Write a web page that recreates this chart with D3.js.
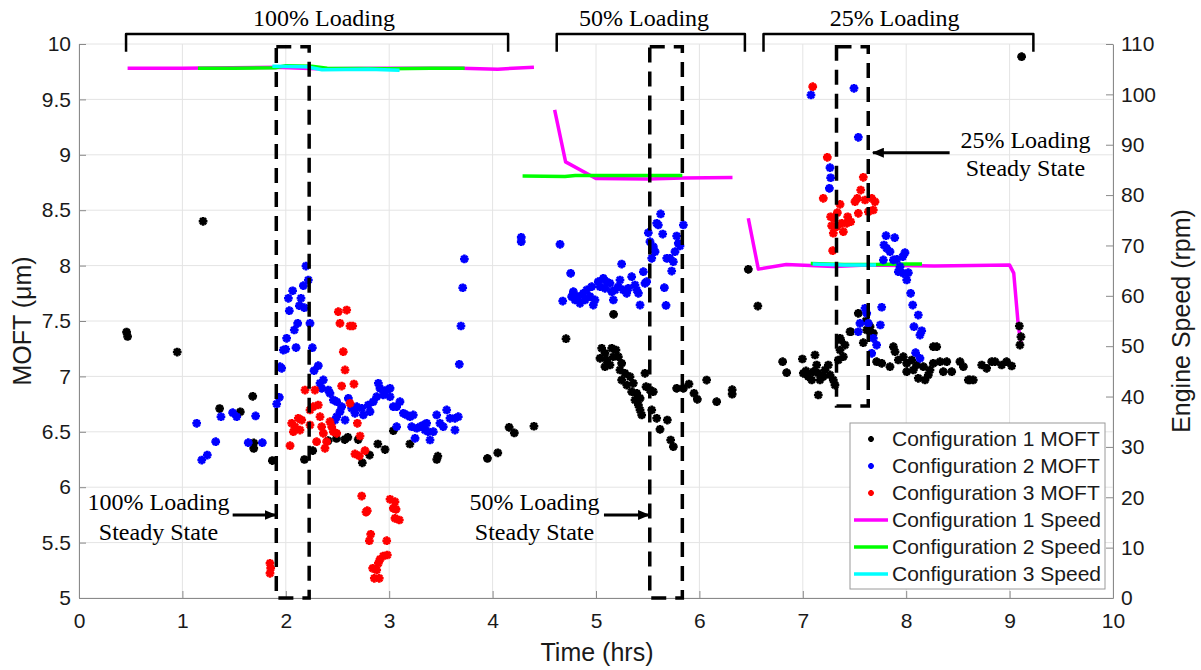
<!DOCTYPE html>
<html>
<head>
<meta charset="utf-8">
<script src="https://cdn.jsdelivr.net/npm/d3@7"></script>
<style>
	body { margin: 0; background: #fff; }
	text { font-family: "Liberation Sans", Arial, sans-serif; fill: #1a1a1a; }
	.serif { font-family: "Liberation Serif", "Times New Roman", serif; fill: #000; }
</style>
</head>
<body>
<svg class="m_chart"></svg>
<script>
	// MOFT samples [time (hrs), MOFT (um)]
	var moft1 = [
		[0.46,7.40],[0.47,7.36],[0.95,7.22],[1.20,8.40],[1.36,6.71],[1.56,6.68],[1.68,6.82],[1.69,6.40],[1.69,6.35],[1.87,6.24],
		[2.18,6.25],[2.26,6.33],[2.41,6.42],[2.49,6.44],[2.57,6.43],[2.60,6.45],[2.70,6.43],[2.74,6.22],[2.81,6.29],[2.89,6.39],
		[2.96,6.34],[3.04,6.51],[3.20,6.39],[3.46,6.25],[3.47,6.28],[3.95,6.26],[4.05,6.31],[4.16,6.54],[4.21,6.49],[4.40,6.55],
		[4.71,7.34],[5.17,7.56],
		[5.055,7.254],[5.087,7.208],[5.152,7.254],[5.193,7.238],[5.039,7.163],[5.103,7.148],[5.168,7.178],[5.216,7.178],[5.087,7.088],
		[5.135,7.103],[5.248,7.118],[5.232,7.058],[5.280,7.028],[5.329,6.997],[5.248,6.967],[5.297,6.922],[5.361,6.938],[5.345,6.862],
		[5.394,6.847],[5.426,6.802],[5.377,6.787],[5.410,6.742],[5.426,6.697],[5.442,6.652],[5.474,7.028],[5.484,6.907],[5.522,6.877],
		[5.554,6.862],[5.539,6.697],[5.587,6.622],[5.619,6.522],[5.690,6.606],[5.722,6.426],[5.748,6.366],[5.780,6.892],[5.845,6.892],
		[5.899,6.931],[5.948,6.847],[5.980,6.793],[6.070,6.967],[6.167,6.772],[6.317,6.88],[6.317,6.84],[6.473,7.966],[6.565,7.635],
		[6.805,7.133],[6.844,7.034],[6.996,7.157],[7.005,7.028],[7.031,7.049],[7.053,6.998],[7.086,6.968],[7.102,7.043],[7.118,7.193],
		[7.134,7.103],[7.150,7.028],[7.166,6.968],[7.198,6.998],[7.215,7.058],[7.247,7.103],[7.263,7.013],[7.295,6.968],[7.311,6.922],
		[7.150,6.832],[7.344,7.148],[7.360,7.238],[7.366,7.329],[7.408,7.283],[7.392,7.178],[7.463,7.403],[7.537,7.569],[7.618,7.419],
		[7.650,7.449],[7.682,7.389],[7.585,7.304],[7.360,7.344],[7.457,7.403],[7.611,7.50],[7.714,7.133],[7.763,7.118],[7.843,7.088],
		[7.876,7.268],[7.892,7.223],[7.924,7.148],[7.972,7.178],[8.005,7.118],[8.005,7.043],[8.053,7.148],[8.069,7.058],[8.101,7.103],
		[8.117,6.983],[8.166,7.088],[8.182,6.968],[8.214,7.013],[8.230,7.058],[8.262,7.268],[8.295,7.268],[8.262,7.118],[8.327,7.133],
		[8.359,7.043],[8.392,7.133],[8.440,7.043],[8.520,7.133],[8.553,7.088],[8.601,6.968],[8.617,6.968],[8.649,6.968],[8.730,7.103],
		[8.778,7.073],[8.827,7.133],[8.859,7.133],[8.923,7.103],[8.971,7.133],[9.020,7.094],[9.094,7.455],[9.110,7.358],[9.100,7.283],
		[9.116,9.886]
	];
	var moft2 = [
		[1.138,6.577],[1.187,6.245],[1.241,6.290],[1.322,6.411],[1.373,6.636],[1.486,6.673],[1.525,6.636],[1.637,6.402],[1.708,6.643],
		[1.773,6.402],[1.912,6.751],[1.937,6.811],[1.944,7.088],[1.960,7.073],[1.976,7.238],[1.999,7.245],[2.008,7.344],[2.025,7.705],
		[2.034,7.593],[2.099,7.26],[2.082,7.419],[2.115,7.479],[2.066,7.773],[2.147,7.705],[2.131,7.638],[2.179,7.620],[2.170,7.819],
		[2.218,7.870],[2.195,7.996],[2.234,7.479],[2.257,7.259],[2.273,7.052],[2.314,7.097],[2.363,6.968],[2.331,6.938],
		[2.347,6.892],[2.411,6.877],[2.427,6.847],[2.460,6.787],[2.492,6.772],[2.540,6.727],[2.524,6.682],[2.492,6.636],[2.476,6.606],
		[2.605,6.802],[2.573,6.606],[2.637,6.712],[2.686,6.727],[2.669,6.667],[2.734,6.712],[2.750,6.652],[2.798,6.742],[2.814,6.682],
		[2.846,6.772],[2.879,6.817],[2.895,6.938],[2.911,6.892],[2.943,6.832],[2.976,6.877],[3.008,6.892],[3.008,6.817],[3.040,6.727],
		[3.072,6.727],[3.104,6.772],[3.137,6.667],[3.169,6.652],[3.201,6.636],[3.233,6.652],[3.217,6.546],[3.266,6.532],[3.250,6.441],
		[3.298,6.546],[3.330,6.561],[3.362,6.577],[3.346,6.516],[3.378,6.501],[3.427,6.501],[3.395,6.426],[3.459,6.652],[3.491,6.577],
		[3.523,6.546],[3.556,6.697],[3.588,6.622],[3.636,6.622],[3.668,6.636],[3.636,6.516],[3.072,6.546],
		[3.678,7.109],[3.694,7.455],[3.711,7.80],[3.727,8.06],[4.277,8.255],[4.277,8.216],
		[4.652,8.192],[4.755,7.930],[4.678,7.680],[4.781,7.765],[4.765,7.720],[4.797,7.690],[4.829,7.720],[4.845,7.660],[4.877,7.750],
		[4.894,7.690],[4.910,7.780],[4.942,7.720],[4.958,7.810],[4.990,7.690],[4.974,7.644],[5.022,7.855],[5.039,7.810],[5.071,7.885],
		[5.103,7.855],[5.087,7.795],[5.135,7.840],[5.152,7.765],[5.184,7.780],[5.168,7.690],[5.232,7.870],[5.216,7.810],[5.264,7.780],
		[5.297,7.750],[5.313,7.795],[5.345,7.900],[5.377,7.825],[5.394,7.780],[5.410,7.750],[5.426,7.644],[5.248,8.014],[5.458,7.945],
		[5.474,7.840],[5.490,7.855],[5.506,8.297],[5.522,8.216],[5.554,8.171],[5.571,8.126],[5.539,8.066],[5.587,8.382],[5.603,8.367],
		[5.625,8.466],[5.645,8.285],[5.661,7.801],[5.677,7.641],[5.684,8.066],[5.716,8.066],[5.732,7.951],[5.748,8.035],[5.764,8.126],
		[5.780,8.267],[5.796,8.201],[5.812,8.177],[5.845,8.367],
		[7.079,9.540],[7.495,9.600],[7.537,9.158],[7.263,8.884],[7.269,8.793],[7.257,8.697],[7.805,8.270],[7.889,8.252],[7.785,8.186],
		[7.811,8.156],[7.843,8.126],[7.988,8.117],[7.966,8.080],[7.908,8.057],[7.876,8.051],[7.779,8.051],[7.940,7.990],[7.924,7.945],
		[7.972,7.930],[8.021,7.936],[8.005,7.870],[8.043,7.750],[8.063,7.644],[8.117,7.554],[8.075,7.449],[8.150,7.412],[8.133,7.373],
		[8.091,7.214],[8.133,7.163],[7.602,7.615],[7.618,7.569],[7.553,7.479],[7.537,7.403],[7.634,7.479],[7.682,7.344],[7.714,7.283],
		[7.666,7.208],[7.763,7.624],[7.750,7.464]
	];
	var moft3 = [
		[1.847,5.313],[1.854,5.268],[1.847,5.223],
		[2.508,7.584],[2.589,7.599],[2.524,7.479],[2.621,7.455],[2.647,7.455],[2.556,7.223],[2.573,7.058],[2.540,6.913],[2.659,6.931],
		[2.186,6.877],[2.282,6.877],[2.621,6.757],[2.266,6.727],[2.314,6.742],[2.234,6.697],[2.121,6.622],[2.154,6.606],[2.057,6.577],
		[2.089,6.546],[2.137,6.516],[2.073,6.501],[2.234,6.561],[2.331,6.636],[2.347,6.546],[2.363,6.486],[2.427,6.591],[2.444,6.546],
		[2.460,6.501],[2.492,6.486],[2.041,6.375],[2.298,6.411],[2.379,6.351],[2.395,6.411],[2.692,6.577],[2.718,6.462],[2.669,6.300],
		[2.711,6.282],[2.766,6.330],[2.734,5.920],[2.788,5.788],[2.776,5.776],[3.008,5.891],[3.056,5.869],[3.040,5.809],[3.066,5.800],
		[3.056,5.719],[3.098,5.704],[2.821,5.575],[2.808,5.517],[2.976,5.517],[2.943,5.379],[2.911,5.349],[2.982,5.388],[2.895,5.313],
		[2.840,5.268],[2.879,5.253],[2.856,5.178],[2.904,5.178],
		[7.096,9.615],[7.237,8.977],[7.585,8.797],[7.560,8.682],[7.505,8.577],[7.527,8.607],[7.198,8.607],[7.360,8.553],[7.334,8.478],
		[7.269,8.441],[7.302,8.427],[7.434,8.441],[7.463,8.396],[7.424,8.382],[7.376,8.382],[7.392,8.306],[7.328,8.351],[7.279,8.360],
		[7.295,8.292],[7.537,8.472],[7.602,8.592],[7.634,8.486],[7.666,8.607],[7.698,8.577],[7.682,8.502],[7.289,8.135]
	];

	// engine speed traces [time (hrs), rpm], one array per loading run
	var speed1_100 = [[0.47,105.2],[1.0,105.2],[1.9,105.4],[2.3,105.1],[3.0,105.2],[3.7,105.2],[4.05,105.0],[4.40,105.4]];
	var speed1_50 = [[4.60,96.9],[4.706,86.6],[5.0,83.3],[5.5,83.2],[5.84,83.4],[6.32,83.5]];
	var speed1_25 = [[6.473,75.4],[6.57,65.3],[6.84,66.2],[7.3,65.8],[7.62,66.1],[8.27,65.9],[9.0,66.1],[9.04,64.5],[9.085,53.9],[9.11,50.6]];
	var speed2_100 = [[1.15,105.2],[1.5,105.2],[1.9,105.3],[2.0,105.7],[2.25,105.6],[2.4,105.2],[3.0,105.1],[3.4,105.2],[3.73,105.2]];
	var speed2_50 = [[4.29,83.8],[4.7,83.7],[4.8,83.9],[5.5,83.9],[5.835,83.9]];
	var speed2_25 = [[7.077,66.4],[7.4,66.2],[7.7,66.2],[8.0,66.3],[8.153,66.3]];
	var speed3_100 = [[1.87,105.6],[2.2,105.5],[2.35,104.9],[2.8,105.0],[3.1,104.8]];
	var speed3_25 = [[7.096,66.3],[7.4,66.1],[7.708,66.1]];

	// loading brackets [start, end, label] and steady state boxes [start, end, bottom MOFT]
	var loadings = [[0.455,4.15,"100% Loading"],[4.62,6.44,"50% Loading"],[6.62,9.23,"25% Loading"]];
	var steadyBoxes = [[1.908,2.226,5],[5.52,5.835,5],[7.326,7.633,6.733]];

	var legendLabels = ["Configuration 1 MOFT","Configuration 2 MOFT","Configuration 3 MOFT",
		"Configuration 1 Speed","Configuration 2 Speed","Configuration 3 Speed"];

	const colors = {
		moft1: "#000000",
		moft2: "#0000ff",
		moft3: "#ff0000",
		speed1: "#ff00ff",
		speed2: "#00ff00",
		speed3: "#00ffff",
		grid: "#e4e4e4",
		axis: "#8a8a8a"
	};
	const margin = {top: 44, right: 88, bottom: 72, left: 79};
	var width = 1201 - margin.left - margin.right;
	var height = 670 - margin.top - margin.bottom;

	var svg = d3.select('.m_chart')
		.attr('width', width + margin.left + margin.right)
		.attr('height', height + margin.top + margin.bottom);
	svg.append('rect').attr('width', 1201).attr('height', 670).attr('fill', '#fff');

	var chart = svg.append('g')
		.attr('transform', 'translate(' + margin.left + ',' + margin.top + ')');

	var x = d3.scaleLinear().domain([0, 10]).range([0, width]);
	var yL = d3.scaleLinear().domain([5, 10]).range([height, 0]);
	var yR = d3.scaleLinear().domain([0, 110]).range([height, 0]);

	// grid
	chart.append('g').selectAll('line')
		.data(x.ticks(10))
		.enter().append('line')
		.attr('x1', (d) => x(d)).attr('x2', (d) => x(d))
		.attr('y1', 0).attr('y2', height)
		.attr('stroke', colors.grid);
	chart.append('g').selectAll('line')
		.data(d3.range(5, 10.01, 0.5))
		.enter().append('line')
		.attr('x1', 0).attr('x2', width)
		.attr('y1', (d) => yL(d)).attr('y2', (d) => yL(d))
		.attr('stroke', colors.grid);

	// axes, ticks pointing inward
	var xAxis = chart.append('g')
		.attr('transform', 'translate(0,' + height + ')')
		.call(d3.axisBottom(x).ticks(10).tickSizeInner(-7).tickSizeOuter(0).tickPadding(15));
	var yAxisL = chart.append('g')
		.call(d3.axisLeft(yL).tickValues(d3.range(5, 10.01, 0.5)).tickFormat(d3.format('~g')).tickSizeInner(-7).tickSizeOuter(0).tickPadding(8));
	var yAxisR = chart.append('g')
		.attr('transform', 'translate(' + width + ',0)')
		.call(d3.axisRight(yR).tickValues(d3.range(0, 111, 10)).tickSizeInner(-7).tickSizeOuter(0).tickPadding(8));
	[xAxis, yAxisL, yAxisR].forEach((a) => {
		a.select('.domain').attr('stroke', colors.axis);
		a.selectAll('.tick line').attr('stroke', colors.axis);
		a.selectAll('.tick text').attr('font-size', 21).attr('fill', '#1a1a1a')
			.style('font-family', '"Liberation Sans", Arial, sans-serif');
	});

	// axis titles
	svg.append('text').attr('x', 597).attr('y', 661).attr('text-anchor', 'middle')
		.attr('font-size', 25).text('Time (hrs)');
	svg.append('text').attr('transform', 'translate(22,321) rotate(-90)').attr('dy', '0.35em')
		.attr('text-anchor', 'middle').attr('font-size', 25).text('MOFT (\u03bcm)');
	svg.append('text').attr('transform', 'translate(1181,321) rotate(-90)').attr('dy', '0.35em')
		.attr('text-anchor', 'middle').attr('font-size', 25).text('Engine Speed (rpm)');

	// speed lines (right axis)
	var line = d3.line().x((d) => x(d[0])).y((d) => yR(d[1]));
	var speedRuns = [
		[speed1_100, colors.speed1], [speed1_50, colors.speed1], [speed1_25, colors.speed1],
		[speed2_100, colors.speed2], [speed2_50, colors.speed2], [speed2_25, colors.speed2],
		[speed3_100, colors.speed3], [speed3_25, colors.speed3]
	];
	chart.append('g').selectAll('path')
		.data(speedRuns)
		.enter().append('path')
		.attr('d', (d) => line(d[0]))
		.attr('fill', 'none')
		.attr('stroke', (d) => d[1])
		.attr('stroke-width', 3.5)
		.attr('stroke-linejoin', 'round');

	// matlab style '*' marker: plus and cross together
	var star = {
		draw: function(ctx, size) {
			var r = Math.sqrt(size) / 2, q = r * 0.7071;
			ctx.moveTo(-r, 0); ctx.lineTo(r, 0);
			ctx.moveTo(0, -r); ctx.lineTo(0, r);
			ctx.moveTo(-q, -q); ctx.lineTo(q, q);
			ctx.moveTo(-q, q); ctx.lineTo(q, -q);
		}
	};
	var marker = d3.symbol().type(star).size(76);

	var moftSets = [[moft1, colors.moft1], [moft2, colors.moft2], [moft3, colors.moft3]];
	moftSets.forEach((s) => {
		chart.append('g').selectAll('path')
			.data(s[0])
			.enter().append('path')
			.attr('d', marker)
			.attr('transform', (d) => 'translate(' + x(d[0]) + ',' + yL(d[1]) + ')')
			.attr('fill', 'none')
			.attr('stroke', s[1])
			.attr('stroke-width', 2.6);
	});

	// steady state boxes
	chart.append('g').selectAll('rect')
		.data(steadyBoxes)
		.enter().append('rect')
		.attr('x', (d) => x(d[0]))
		.attr('y', yL(9.976))
		.attr('width', (d) => x(d[1]) - x(d[0]))
		.attr('height', (d) => yL(d[2]) - yL(9.976))
		.attr('fill', 'none')
		.attr('stroke', '#000')
		.attr('stroke-width', 3.5)
		.attr('stroke-dasharray', '15,9');

	// loading brackets and labels
	var brackets = chart.append('g');
	brackets.selectAll('path')
		.data(loadings)
		.enter().append('path')
		.attr('d', (d) => 'M' + x(d[0]) + ',' + yL(9.93) + 'V' + yL(10.09) + 'H' + x(d[1]) + 'V' + yL(9.93))
		.attr('fill', 'none').attr('stroke', '#000').attr('stroke-width', 2.5)
		.attr('stroke-linejoin', 'round');
	brackets.selectAll('text')
		.data(loadings)
		.enter().append('text')
		.attr('class', 'serif')
		.attr('x', (d, i) => x([2.37, 5.465, 7.888][i]))
		.attr('y', yL(10.235))
		.attr('dy', '0.35em')
		.attr('text-anchor', 'middle')
		.attr('font-size', 24)
		.text((d) => d[2]);

	// arrows to steady state boxes
	svg.append('defs').append('marker')
		.attr('id', 'head').attr('markerUnits', 'userSpaceOnUse')
		.attr('markerWidth', 12).attr('markerHeight', 10)
		.attr('refX', 11).attr('refY', 5).attr('orient', 'auto')
		.append('path').attr('d', 'M0,0L12,5L0,10Z').attr('fill', '#000');

	var notes = [
		{from: [1.486, 5.749], to: [1.901, 5.749], text: [0.769, 5.869, 5.598], lbl: "100% Loading"},
		{from: [5.077, 5.749], to: [5.513, 5.749], text: [4.405, 5.869, 5.598], lbl: "50% Loading"},
		{from: [8.42, 9.019], to: [7.678, 9.019], text: [9.153, 9.134, 8.88], lbl: "25% Loading"}
	];
	notes.forEach((n) => {
		chart.append('line')
			.attr('x1', x(n.from[0])).attr('y1', yL(n.from[1]))
			.attr('x2', x(n.to[0])).attr('y2', yL(n.to[1]))
			.attr('stroke', '#000').attr('stroke-width', 3)
			.attr('marker-end', 'url(#head)');
		chart.append('text').attr('class', 'serif')
			.attr('x', x(n.text[0])).attr('y', yL(n.text[1])).attr('dy', '0.35em')
			.attr('text-anchor', 'middle').attr('font-size', 24).text(n.lbl);
		chart.append('text').attr('class', 'serif')
			.attr('x', x(n.text[0])).attr('y', yL(n.text[2])).attr('dy', '0.35em')
			.attr('text-anchor', 'middle').attr('font-size', 24).text('Steady State');
	});

	// legend
	var legendColors = [colors.moft1, colors.moft2, colors.moft3, colors.speed1, colors.speed2, colors.speed3];
	var legend = svg.append('g').attr('transform', 'translate(850,423)');
	legend.append('rect').attr('width', 255).attr('height', 166)
		.attr('fill', '#fff').attr('stroke', '#9a9a9a');
	var rows = legend.selectAll('.row')
		.data(legendLabels)
		.enter().append('g')
		.attr('transform', (d, i) => 'translate(0,' + (16 + 27 * i) + ')');
	rows.each(function(d, i) {
		var g = d3.select(this);
		if (i < 3) {
			g.append('path').attr('d', d3.symbol().type(star).size(34))
				.attr('transform', 'translate(21,0)')
				.attr('fill', 'none').attr('stroke', legendColors[i]).attr('stroke-width', 2);
		} else {
			g.append('line').attr('x1', 4).attr('x2', 38).attr('y1', 0).attr('y2', 0)
				.attr('stroke', legendColors[i]).attr('stroke-width', 3.5);
		}
	});
	rows.append('text').attr('x', 42).attr('dy', '0.35em').attr('font-size', 21)
		.attr('fill', '#000').text((d) => d);
</script>
</body>
</html>
